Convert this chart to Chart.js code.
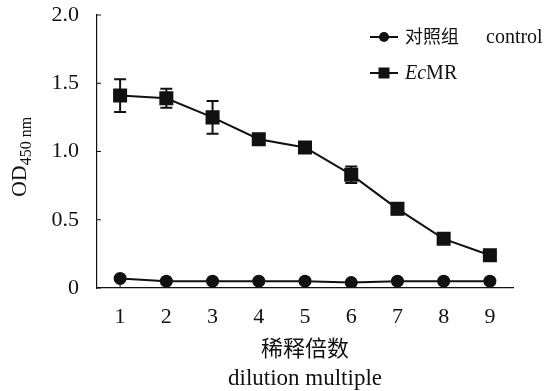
<!DOCTYPE html>
<html>
<head>
<meta charset="utf-8">
<script src="https://cdn.jsdelivr.net/npm/chart.js@4.4.0/dist/chart.umd.min.js"></script>
<style>
  html, body { margin: 0; padding: 0; background: #fff; }
  #grafico { display: block; }
</style>
</head>
<body>
<canvas id="grafico" width="546" height="391"></canvas>
<script>
// dados
const diluicoes = ['1', '2', '3', '4', '5', '6', '7', '8', '9'];
const controle = [0.07, 0.05, 0.05, 0.05, 0.05, 0.04, 0.05, 0.05, 0.05];
const ecmr = [1.41, 1.39, 1.25, 1.09, 1.03, 0.83, 0.58, 0.36, 0.24];
const ecmrErro = [0.12, 0.07, 0.12, 0.03, 0.01, 0.06, 0.04, 0.01, 0.01];
const yTicks = [0, 0.5, 1.0, 1.5, 2.0];

const SERIF = "'Liberation Serif', 'Noto Sans CJK SC', serif";
const COR = '#111';

// barras de erro desenhadas pelas escalas
const barrasErro = {
  id: 'barrasErro',
  beforeDatasetsDraw(chart) {
    const { ctx, scales: { x, y } } = chart;
    ctx.save();
    ctx.strokeStyle = COR;
    ctx.lineWidth = 2;
    ecmr.forEach((v, i) => {
      const px = x.getPixelForValue(i);
      const top = y.getPixelForValue(v + ecmrErro[i]);
      const bot = y.getPixelForValue(v - ecmrErro[i]);
      ctx.beginPath();
      ctx.moveTo(px, top); ctx.lineTo(px, bot);
      ctx.moveTo(px - 6, top); ctx.lineTo(px + 6, top);
      ctx.moveTo(px - 6, bot); ctx.lineTo(px + 6, bot);
      ctx.stroke();
    });
    // ticks para dentro
    ctx.lineWidth = 1;
    yTicks.forEach(t => {
      const py = y.getPixelForValue(t);
      ctx.beginPath();
      ctx.moveTo(x.left, py); ctx.lineTo(x.left + 4, py);
      ctx.stroke();
    });
    diluicoes.forEach((d, i) => {
      const px = x.getPixelForValue(i);
      ctx.beginPath();
      ctx.moveTo(px, y.bottom); ctx.lineTo(px, y.bottom - 4);
      ctx.stroke();
    });
    ctx.restore();
  }
};

// títulos e legenda
const textos = {
  id: 'textos',
  afterDraw(chart) {
    const { ctx, scales: { x, y } } = chart;
    ctx.save();
    ctx.fillStyle = COR;
    ctx.strokeStyle = COR;

    // título do eixo x
    const cx = (x.left + x.right) / 2;
    ctx.textAlign = 'center';
    ctx.textBaseline = 'middle';
    ctx.font = '22px ' + SERIF;
    ctx.fillText('稀释倍数', cx, 350);
    ctx.font = '23px ' + SERIF;
    ctx.fillText('dilution multiple', cx, 379);

    // título do eixo y com subscrito
    ctx.translate(26, 157);
    ctx.rotate(-Math.PI / 2);
    ctx.textAlign = 'left';
    ctx.textBaseline = 'alphabetic';
    ctx.font = '22px ' + SERIF;
    const wOD = ctx.measureText('OD').width;
    ctx.font = '16px ' + SERIF;
    const wSub = ctx.measureText('450 nm').width;
    const ini = -(wOD + wSub) / 2;
    ctx.font = '22px ' + SERIF;
    ctx.fillText('OD', ini, 0);
    ctx.font = '16px ' + SERIF;
    ctx.fillText('450 nm', ini + wOD, 5);
    ctx.setTransform(1, 0, 0, 1, 0, 0);

    // legenda
    ctx.lineWidth = 2;
    ctx.textBaseline = 'middle';
    ctx.textAlign = 'left';
    const linhas = [37, 73];
    linhas.forEach(ly => {
      ctx.beginPath();
      ctx.moveTo(370, ly); ctx.lineTo(398, ly);
      ctx.stroke();
    });
    ctx.beginPath();
    ctx.arc(384, 37, 5, 0, Math.PI * 2);
    ctx.fill();
    ctx.fillRect(378.5, 67.5, 11, 11);
    ctx.font = '18px ' + SERIF;
    ctx.fillText('对照组', 405, 38);
    ctx.font = '20px ' + SERIF;
    ctx.fillText('control', 486, 38);
    ctx.font = 'italic 20px ' + SERIF;
    ctx.fillText('Ec', 405, 74);
    const wEc = ctx.measureText('Ec').width;
    ctx.font = '20px ' + SERIF;
    ctx.fillText('MR', 405 + wEc, 74);
    ctx.restore();
  }
};

const ctx = document.getElementById('grafico').getContext('2d');
window.chartInstance = new Chart(ctx, {
  type: 'line',
  data: {
    labels: diluicoes,
    datasets: [{
      label: '对照组 control',
      data: controle,
      borderColor: COR,
      backgroundColor: COR,
      borderWidth: 2,
      pointStyle: 'circle',
      pointRadius: 5.5,
      pointHoverRadius: 5.5,
      tension: 0
    }, {
      label: 'EcMR',
      data: ecmr,
      borderColor: COR,
      backgroundColor: COR,
      borderWidth: 2,
      pointStyle: 'rect',
      pointRadius: 8.5,
      pointHoverRadius: 8.5,
      tension: 0
    }]
  },
  options: {
    responsive: false,
    animation: false,
    layout: { padding: { top: 15, right: 33, bottom: 0, left: 0 } },
    plugins: {
      legend: { display: false },
      tooltip: { enabled: false }
    },
    scales: {
      x: {
        offset: true,
        grid: { display: false },
        border: { color: COR, width: 1.2 },
        ticks: { color: COR, padding: 8, font: { family: SERIF, size: 22 } },
        afterFit(scale) { scale.height = 103; }
      },
      y: {
        min: 0,
        max: 2,
        grid: { display: false },
        border: { color: COR, width: 1.2 },
        ticks: {
          stepSize: 0.5,
          color: COR,
          padding: 10,
          font: { family: SERIF, size: 22 },
          callback: v => (v === 0 ? '0' : v.toFixed(1))
        },
        afterFit(scale) {
          scale.width = 97;
          scale.paddingTop = 0;
          scale.paddingBottom = 0;
        }
      }
    }
  },
  plugins: [barrasErro, textos]
});
</script>
</body>
</html>
